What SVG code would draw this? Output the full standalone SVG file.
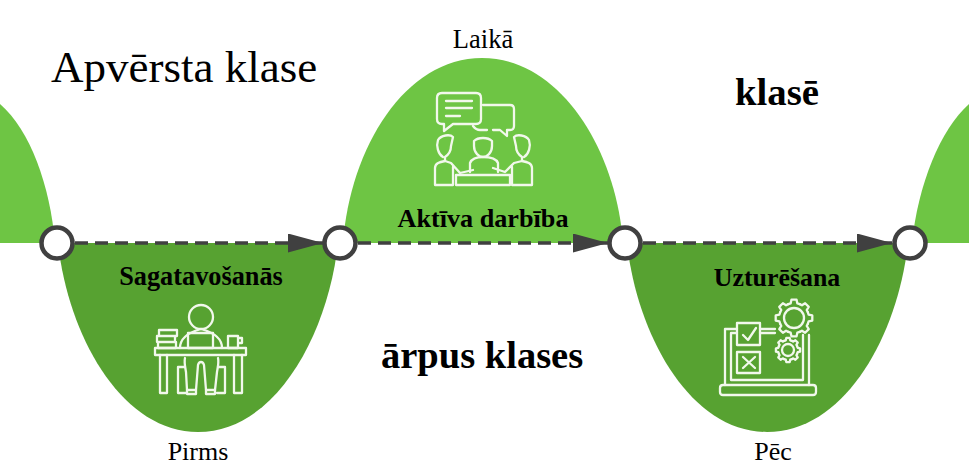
<svg xmlns="http://www.w3.org/2000/svg" width="969" height="469" viewBox="0 0 969 469">
<style>
.t{font-family:"Liberation Serif","Times New Roman",serif;fill:#000}
.b{font-weight:bold}
.light{fill:#6EC544}
.dark{fill:#57A231}
.ic{fill:none;stroke:#F2F8EC;stroke-width:2.3;stroke-linejoin:round;stroke-linecap:round}
.n{fill:#fff;stroke:#404040;stroke-width:4.5}
.c{fill:none;stroke:#404040;stroke-width:3.5;stroke-dasharray:13 7}
</style>
<defs>
<marker id="ah" markerUnits="userSpaceOnUse" markerWidth="36" markerHeight="20" refX="35" refY="9.500" orient="auto"><path d="M0 0L35 9.500L0 19Z" fill="#404040"/></marker>
<path id="tooth" vector-effect="non-scaling-stroke" d="M-5.740 -13.860L-3.370 -14.600L-2.570 -18.300H2.570L3.370 -14.600L5.740 -13.860"/>
<g id="gear">
<use href="#tooth"/><use href="#tooth" transform="rotate(45)"/><use href="#tooth" transform="rotate(90)"/><use href="#tooth" transform="rotate(135)"/><use href="#tooth" transform="rotate(180)"/><use href="#tooth" transform="rotate(225)"/><use href="#tooth" transform="rotate(270)"/><use href="#tooth" transform="rotate(315)"/>
</g>
</defs>
<rect width="969" height="469" fill="#fff"/>
<g id="wave-left"><path class="light" d="M0 104C30 130 50 185 55 243H0Z"/></g>
<g id="wave-right"><path class="light" d="M969 104C940 130 918 185 912 243H969Z"/></g>
<g id="title"><text class="t" x="51" y="82" font-size="45">Apvērsta klase</text></g>
<g id="label-klase"><text class="t b" x="735" y="105" font-size="38.800">klasē</text></g>
<g id="label-arpus"><text class="t b" x="381" y="368" font-size="38.500">ārpus klases</text></g>
<g id="hump-prepare">
<path class="dark" d="M58 243H338C328 335 275 432 198 432C121 432 68 335 58 243Z"/>
<text class="t b" x="201" y="285" font-size="26.300" text-anchor="middle">Sagatavošanās</text>
<g class="ic">
<circle cx="201" cy="317" r="12"/>
<path d="M180 348C180 337 190 332 201 329C212 332 222 337 222 348"/>
<rect x="188" y="333" width="25" height="15"/>
<path d="M155 348H246V355H155Z"/>
<path d="M159 330H177V336H159ZM157 336H175V342H157ZM158 342H176V348H158Z"/>
<path d="M228 336H238V348H228ZM238 338H242V343H238"/>
<path d="M160 355V393H167V355M234 355V393H242V355"/>
<path d="M185 358C184 362 185 366 186 372L187 390H196L198 365C199 361 203 361 204 365L206 390H215L217 372C218 366 219 362 218 358"/>
<path d="M187 390V394H196V390M206 390V394H215V390"/>
<path d="M185 367H178V393H186M218 367H225V393H217"/>
</g>
<text class="t" x="198" y="460" font-size="26" text-anchor="middle">Pirms</text>
</g>
<g id="hump-active">
<path class="light" d="M343 243C350 148 405 58 482 58C559 58 616 148 623 243Z"/>
<text class="t" x="483" y="48" font-size="26.500" text-anchor="middle">Laikā</text>
<g class="ic">
<path d="M442 93H476Q481 93 481 98V119Q481 124 476 124H453L444 131V124H442Q437 124 437 119V98Q437 93 442 93Z"/>
<path d="M446 101H472M446 108H472M446 116H460"/>
<path d="M483 105H510Q514 105 514 109V126Q514 130 510 130H507V136L500 130H493M487 130H480Q476 130 473 126"/>
<path d="M443 157C438 154 436 146 438 140C441 135 450 134 453 137L451 146C451 152 448 155 445 157V161"/>
<path d="M474 141C478 137 488 137 492 141V146C492 153 487 157 483 157C479 157 474 153 474 146Z"/>
<path d="M524 157C529 154 531 146 529 140C526 135 517 134 514 137L516 146C516 152 519 155 522 157V161"/>
<path d="M435 185V168C435 163 440 162 445 161L451 163L460 173L473 170M435 185H453V167"/>
<path d="M532 185V168C532 163 527 162 522 161L514 163L505 172L493 168M532 185H512V167"/>
<path d="M470 172V163C472 158 478 157 483 157C489 157 496 158 498 163V172"/>
<path d="M456 175H510V185H456Z"/>
</g>
<text class="t b" x="483" y="227" font-size="26.200" text-anchor="middle">Aktīva darbība</text>
</g>
<g id="hump-maintain">
<path class="dark" d="M627 243H908C898 335 845 432 767 432C690 432 637 335 627 243Z"/>
<text class="t b" x="777" y="286" font-size="25.900" text-anchor="middle">Uzturēšana</text>
<g class="ic">
<path d="M737 329H725V385M809 335V385M731 333H737M731 333V380H803V335"/>
<rect x="737" y="323" width="23" height="22"/>
<path d="M743 335L748 340L756 328"/>
<rect x="737" y="352" width="23" height="21"/>
<path d="M743 357L755 368M755 357L743 368"/>
<path d="M760 329H775M760 333H775"/>
<path d="M723 385H813Q816 385 816 388V392Q816 395 813 395H723Q720 395 720 392V388Q720 385 723 385Z"/>
<use href="#gear" transform="translate(794 318)"/>
<circle cx="794" cy="318" r="10"/>
<use href="#gear" transform="translate(788 350) scale(.66)"/>
<circle cx="788" cy="350" r="6"/>
</g>
<text class="t" x="773" y="460" font-size="26" text-anchor="middle">Pēc</text>
</g>
<g id="connectors">
<path class="c" d="M75 243H323" marker-end="url(#ah)"/>
<path class="c" d="M358 243H608" marker-end="url(#ah)"/>
<path class="c" d="M643 243H892" marker-end="url(#ah)"/>
</g>
<g id="node-1"><circle class="n" cx="57" cy="243" r="15.500"/></g>
<g id="node-2"><circle class="n" cx="340" cy="243" r="15.500"/></g>
<g id="node-3"><circle class="n" cx="625" cy="243" r="15.500"/></g>
<g id="node-4"><circle class="n" cx="910" cy="243" r="15.500"/></g>
</svg>
